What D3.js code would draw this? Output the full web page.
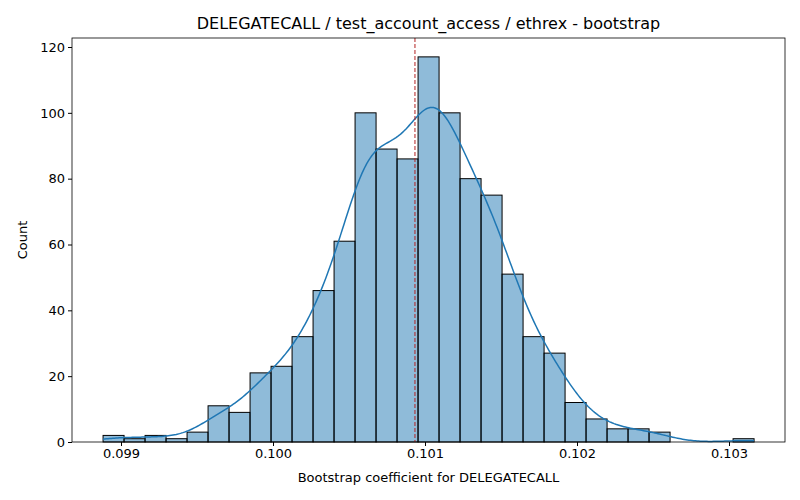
<!DOCTYPE html>
<html><head><meta charset="utf-8">
<script src="https://cdn.jsdelivr.net/npm/d3@7"></script>
<style>body{margin:0;background:#fff}text{font-family:"DejaVu Sans",sans-serif}</style>
</head><body><svg id="c" width="800" height="500"></svg>
<script>
const binStart = 0.098882;
const binWidth = 0.00013816;
const counts = [2,1,2,1,3,11,9,21,23,32,46,61,100,89,86,117,100,80,75,51,32,27,12,7,4,4,3,0,0,0,1];
const xTicks = [0.099,0.100,0.101,0.102,0.103];
const yTicks = [0,20,40,60,80,100,120];
const refLine = 0.100934;
const title = "DELEGATECALL / test_account_access / ethrex - bootstrap";
const xLabel = "Bootstrap coefficient for DELEGATECALL";
const yLabel = "Count";

const svg = d3.select("#c");
const L=72,R=785,T=38,B=442;
const x = d3.scaleLinear().domain([0.099,0.103]).range([121,729]);
const y = d3.scaleLinear().domain([0,120]).range([B,47]);
const g = svg.append("g");
counts.forEach((c,i)=>{
  const x0=binStart+i*binWidth;
  if(c>0) g.append("rect").attr("x",x(x0)).attr("width",x(x0+binWidth)-x(x0))
    .attr("y",y(c)).attr("height",B-y(c)).attr("fill","rgba(31,119,180,0.5)").attr("stroke","#000").attr("stroke-width",1);
});
// KDE from bin centers
const pts=[];counts.forEach((c,i)=>{for(let k=0;k<c;k++)pts.push(binStart+(i+0.5)*binWidth);});
const n=pts.length, mean=d3.mean(pts), sd=d3.deviation(pts);
const bw=sd*Math.pow(n,-0.2);
const xs=d3.range(0,401).map(i=>binStart+i/400*(31*binWidth));
const kde=xs.map(v=>{let s=0;for(const p of pts){const z=(v-p)/bw;s+=Math.exp(-0.5*z*z);}return [v,s/(bw*Math.sqrt(2*Math.PI))*binWidth];});
g.append("path").datum(kde).attr("fill","none").attr("stroke","#1f77b4").attr("stroke-width",1.5)
 .attr("d",d3.line().x(d=>x(d[0])).y(d=>y(d[1])));
g.append("line").attr("x1",x(refLine)).attr("x2",x(refLine)).attr("y1",T).attr("y2",B)
 .attr("stroke","#b22222").attr("stroke-dasharray","4,2").attr("stroke-width",1);
svg.append("rect").attr("x",L).attr("y",T).attr("width",R-L).attr("height",B-T).attr("fill","none").attr("stroke","#000").attr("stroke-width",0.8);
const xa=svg.append("g").attr("transform",`translate(0,${B})`).call(d3.axisBottom(x).tickValues(xTicks).tickFormat(d3.format(".3f")).tickSize(4));
const ya=svg.append("g").attr("transform",`translate(${L},0)`).call(d3.axisLeft(y).tickValues(yTicks).tickSize(4));
[xa,ya].forEach(a=>{a.select(".domain").remove();a.selectAll("text").attr("font-size",13).attr("fill","#000").style("font-family","DejaVu Sans");});
svg.append("text").attr("x",(L+R)/2).attr("y",29).attr("text-anchor","middle").attr("font-size",16).text(title);
svg.append("text").attr("x",(L+R)/2).attr("y",482).attr("text-anchor","middle").attr("font-size",13).text(xLabel);
svg.append("text").attr("transform",`translate(27,${(T+B)/2}) rotate(-90)`).attr("text-anchor","middle").attr("font-size",13).text(yLabel);
</script></body></html>
